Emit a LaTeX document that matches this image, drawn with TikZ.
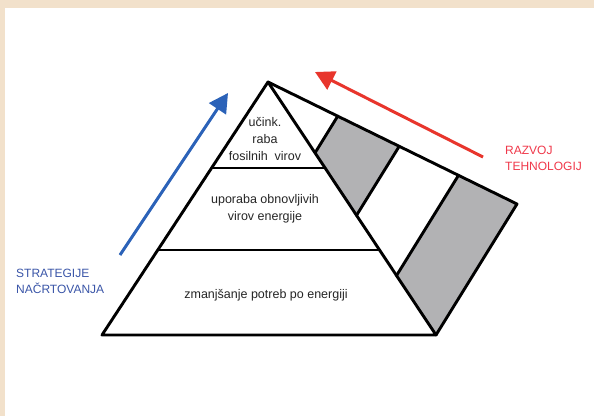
\documentclass[tikz,border=0pt]{standalone}
\usepackage{fontspec}
\setmainfont{Liberation Sans}
\usetikzlibrary{calc,arrows.meta}
\definecolor{beige}{HTML}{F2E1CB}
\definecolor{facegray}{HTML}{B2B2B4}
\definecolor{arrblue}{HTML}{2B62B8}
\definecolor{txtblue}{HTML}{3A55A8}
\definecolor{arrred}{HTML}{E8352C}
\definecolor{txtred}{HTML}{F0384A}
\tikzset{
  edge/.style={line width=2.9pt, line join=round, line cap=round},
  ptext/.style={font=\fontsize{12.5}{17}\selectfont, align=center, text=black!85},
  lbl/.style={font=\fontsize{12}{16}\selectfont, align=left, inner sep=0pt},
  bigarrow/.style={line width=3pt, -{Triangle[length=19pt,width=20pt]}}
}
\begin{document}
\begin{tikzpicture}[x=1pt,y=-1pt]
\useasboundingbox (0,0) rectangle (594,416);
\fill[beige] (0,0) rectangle (594,416);
\fill[white] (5.3,8) rectangle (594,416);
% geometry
\coordinate (A) at (268,82);
\coordinate (BL) at (102,335);
\coordinate (BR) at (436,335);
\coordinate (C) at (517,204);
\coordinate (P1) at ($(A)!0.28!(C)$);
\coordinate (P2) at ($(A)!0.527!(C)$);
\coordinate (P3) at ($(A)!0.765!(C)$);
\coordinate (Q1) at ($(A)!0.28!(BR)$);
\coordinate (Q2) at ($(A)!0.527!(BR)$);
\coordinate (Q3) at ($(A)!0.765!(BR)$);
\coordinate (L1) at ($(A)!0.34!(BL)$);
\coordinate (R1) at ($(A)!0.34!(BR)$);
\coordinate (L2) at ($(A)!0.664!(BL)$);
\coordinate (R2) at ($(A)!0.664!(BR)$);
% gray strips
\fill[facegray] (P1) -- (P2) -- (Q2) -- (Q1) -- cycle;
\fill[facegray] (P3) -- (C) -- (BR) -- (Q3) -- cycle;
% outlines
\draw[edge] (A) -- (BL) -- (BR) -- cycle;
\draw[edge] (A) -- (C) -- (BR);
\draw[edge] (L1) -- (R1);
\draw[edge] (L2) -- (R2);
\draw[edge] (P1) -- (Q1);
\draw[edge] (P2) -- (Q2);
\draw[edge] (P3) -- (Q3);
% texts
\node[ptext] (t1) at (265,139) {učink.\\raba\\fosilnih\ \ virov};
\node[ptext] (t2) at (265,209) {uporaba obnovljivih\\virov energije};
\node[ptext] (t3) at (266,295) {zmanjšanje potreb po energiji};
% arrows
\coordinate (b0) at (120,255);
\coordinate (b1) at (228,93);
\draw[bigarrow, arrblue] (b0) -- (b1);
\coordinate (r0) at (483,157);
\coordinate (r1) at (315,72);
\draw[bigarrow, arrred] (r0) -- (r1);
\node[lbl, text=txtblue, anchor=west] (ls) at (16,281.5) {STRATEGIJE\\NAČRTOVANJA};
\node[lbl, text=txtred, anchor=west, font=\fontsize{12}{15.5}\selectfont] (lr) at (505,158.3) {RAZVOJ\\TEHNOLOGIJ};
\end{tikzpicture}
\end{document}
